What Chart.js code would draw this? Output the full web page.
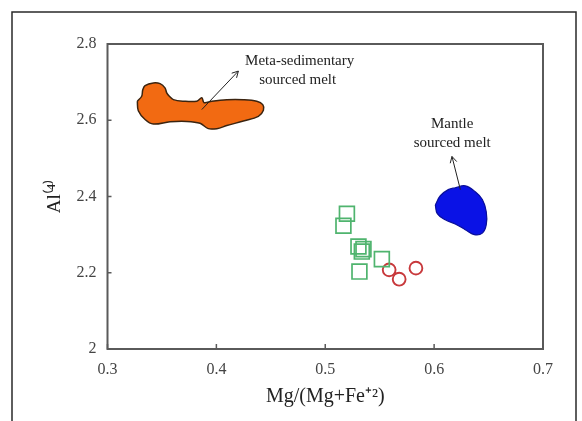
<!DOCTYPE html>
<html><head><meta charset="utf-8">
<style>html,body{margin:0;padding:0;background:#fff;}#wrap{width:582px;height:421px;position:relative}</style>
<script src="https://cdn.jsdelivr.net/npm/chart.js@4.4.1/dist/chart.umd.min.js"></script>
</head><body><div id="wrap"><canvas id="c" width="582" height="421"></canvas></div>
<script>
// ---- data ----
const xTickValues = [0.3, 0.4, 0.5, 0.6, 0.7];
const yTickValues = [2, 2.2, 2.4, 2.6, 2.8];
const squaresX = [0.5199, 0.5167, 0.5305, 0.5351, 0.5336, 0.5520, 0.5314];
const squaresY = [2.3547, 2.3232, 2.2688, 2.2620, 2.2556, 2.2357, 2.2031];
const circlesX = [0.5587, 0.5679, 0.5833];
const circlesY = [2.2076, 2.1831, 2.2120];
const metaX = [0.3274,0.3314,0.3324,0.3345,0.3421,0.3483,0.3528,0.3544,0.3568,0.3605,0.3697,0.3820,0.3866,0.3887,0.3958,0.4096,0.4248,0.4371,0.4426,0.4432,0.4386,0.4248,0.4096,0.4004,0.3926,0.3850,0.3728,0.3574,0.3421,0.3345,0.3283,0.3274];
const metaY = [2.650,2.663,2.680,2.691,2.698,2.696,2.685,2.672,2.663,2.654,2.650,2.650,2.659,2.646,2.650,2.654,2.654,2.650,2.641,2.626,2.610,2.598,2.586,2.578,2.578,2.592,2.597,2.596,2.590,2.602,2.625,2.650];
const mantleX = [0.6011,0.6057,0.6130,0.6194,0.6286,0.6378,0.6443,0.6479,0.6479,0.6443,0.6369,0.6286,0.6194,0.6102,0.6029,0.6011];
const mantleY = [2.378,2.402,2.418,2.423,2.428,2.4125,2.392,2.360,2.326,2.304,2.300,2.313,2.328,2.339,2.355,2.378];
const xTitle = 'Mg/(Mg+Fe⁺²)';
const yTitle = 'Al⁽⁴⁾';
const metaLabel = ['Meta-sedimentary', 'sourced melt'];
const mantleLabel = ['Mantle', 'sourced melt'];

// annotation anchors in data units
const metaText = {x: 0.4765, y: 2.754};
const metaArrow = {x1: 0.3866, y1: 2.628, x2: 0.4202, y2: 2.729};
const mantleText = {x: 0.6166, y: 2.591};
const mantleArrow = {x1: 0.6241, y1: 2.418, x2: 0.6164, y2: 2.505};

const zip = (xs, ys) => xs.map((x, i) => ({x, y: ys[i]}));
const SERIF = '"Liberation Serif", "Times New Roman", serif';

const framePlugin = {
  id: 'frame',
  beforeDraw(chart) {
    const ctx = chart.ctx;
    ctx.save();
    ctx.strokeStyle = '#2a2a2a';
    ctx.lineWidth = 1.5;
    ctx.beginPath();
    ctx.moveTo(12, 421); ctx.lineTo(12, 12); ctx.lineTo(576, 12); ctx.lineTo(576, 421);
    ctx.stroke();
    ctx.restore();
  },
  afterDraw(chart) {
    const {ctx, chartArea: a, scales: {x, y}} = chart;
    ctx.save();
    ctx.strokeStyle = '#5a5a5a';
    ctx.lineWidth = 2;
    ctx.strokeRect(a.left, a.top, a.right - a.left, a.bottom - a.top);
    ctx.lineWidth = 1.5;
    ctx.beginPath();
    x.ticks.forEach(t => { const p = x.getPixelForValue(t.value); ctx.moveTo(p, a.bottom); ctx.lineTo(p, a.bottom - 5); });
    y.ticks.forEach(t => { const p = y.getPixelForValue(t.value); ctx.moveTo(a.left, p); ctx.lineTo(a.left + 4, p); });
    ctx.stroke();
    ctx.restore();
  },
  afterDatasetsDraw(chart) {
    const {ctx, scales: {x, y}} = chart;
    ctx.save();
    ctx.fillStyle = '#222';
    ctx.font = '15px ' + SERIF;
    ctx.textAlign = 'center';
    ctx.textBaseline = 'middle';
    const mtx = x.getPixelForValue(metaText.x), mty = y.getPixelForValue(metaText.y);
    ctx.fillText(metaLabel[0], mtx, mty);
    ctx.fillText(metaLabel[1], mtx - 2, mty + 19);
    const ntx = x.getPixelForValue(mantleText.x), nty = y.getPixelForValue(mantleText.y);
    ctx.fillText(mantleLabel[0], ntx, nty);
    ctx.fillText(mantleLabel[1], ntx, nty + 19);
    const arrow = (ar) => {
      const x1 = x.getPixelForValue(ar.x1), y1 = y.getPixelForValue(ar.y1);
      const x2 = x.getPixelForValue(ar.x2), y2 = y.getPixelForValue(ar.y2);
      const ang = Math.atan2(y2 - y1, x2 - x1);
      ctx.strokeStyle = '#222';
      ctx.lineWidth = 1;
      ctx.beginPath();
      ctx.moveTo(x1, y1); ctx.lineTo(x2, y2);
      const h = 7;
      ctx.moveTo(x2 - h * Math.cos(ang - 0.5), y2 - h * Math.sin(ang - 0.5));
      ctx.lineTo(x2, y2);
      ctx.lineTo(x2 - h * Math.cos(ang + 0.5), y2 - h * Math.sin(ang + 0.5));
      ctx.stroke();
    };
    arrow(metaArrow);
    arrow(mantleArrow);
    ctx.restore();
  }
};

new Chart(document.getElementById('c'), {
  type: 'scatter',
  data: {
    datasets: [
      {type: 'line', data: zip(metaX, metaY), showLine: true, fill: 'shape', tension: 0.35,
       backgroundColor: '#f26a12', borderColor: '#3b2410', borderWidth: 1.5, pointRadius: 0},
      {type: 'line', data: zip(mantleX, mantleY), showLine: true, fill: 'shape', tension: 0.4,
       backgroundColor: '#0a12e6', borderColor: '#0a0f9a', borderWidth: 1.2, pointRadius: 0},
      {data: zip(squaresX, squaresY), pointStyle: 'rect', pointRadius: 10.5, borderColor: '#4fb46e',
       backgroundColor: 'rgba(0,0,0,0)', borderWidth: 1.7},
      {data: zip(circlesX, circlesY), pointStyle: 'circle', pointRadius: 6.4, borderColor: '#c8393c',
       backgroundColor: 'rgba(0,0,0,0)', borderWidth: 1.9}
    ]
  },
  options: {
    responsive: false,
    animation: false,
    layout: {padding: {left: 0, right: 39, top: 44, bottom: 0}},
    plugins: {legend: {display: false}, tooltip: {enabled: false}},
    scales: {
      x: {
        type: 'linear', min: 0.3, max: 0.7,
        afterBuildTicks: s => { s.ticks = xTickValues.map(v => ({value: v})); },
        afterFit: s => { s.height = 72; },
        grid: {display: false, drawTicks: false},
        border: {display: false},
        ticks: {padding: 11, color: '#444', font: {family: SERIF, size: 16},
                callback: v => String(+(+v).toFixed(1))},
        title: {display: true, text: xTitle, color: '#222', font: {family: SERIF, size: 20}, padding: {top: 2, bottom: 12}}
      },
      y: {
        type: 'linear', min: 2, max: 2.8,
        afterBuildTicks: s => { s.ticks = yTickValues.map(v => ({value: v})); },
        afterFit: s => { s.width = 107.5; },
        grid: {display: false, drawTicks: false},
        border: {display: false},
        ticks: {padding: 11, color: '#444', font: {family: SERIF, size: 16},
                callback: v => String(+(+v).toFixed(1))},
        title: {display: true, text: yTitle, color: '#222', font: {family: SERIF, size: 19}, padding: {top: 44, bottom: 0}}
      }
    }
  },
  plugins: [framePlugin]
});
</script>
</body></html>
